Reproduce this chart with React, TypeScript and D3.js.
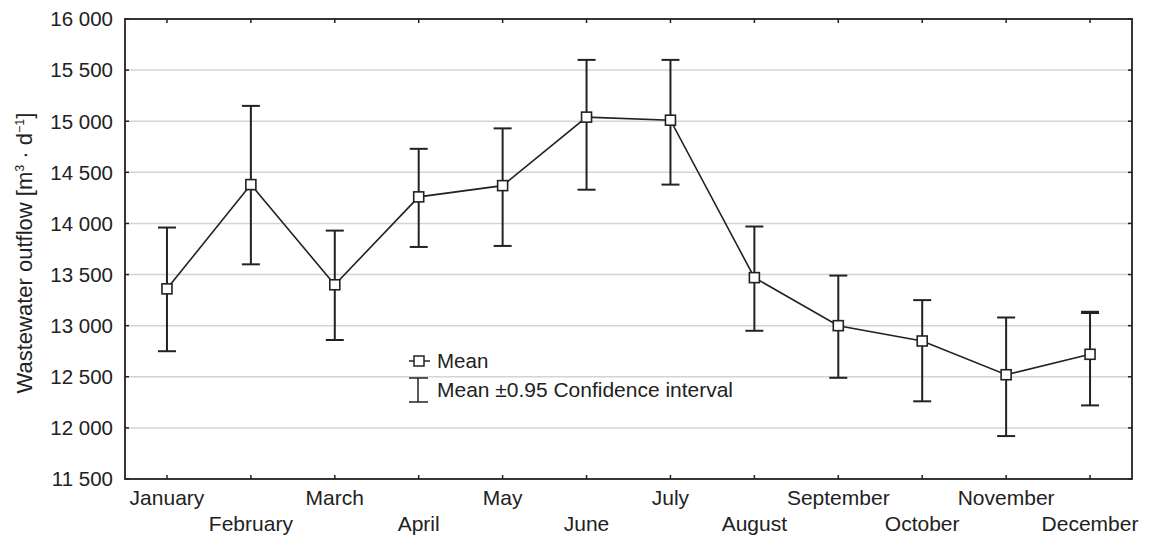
import React from "react";
import * as d3 from "d3";

const months = ["January","February","March","April","May","June","July","August","September","October","November","December"];
const meanValues = [13360,14380,13400,14260,14370,15040,15010,13470,13000,12850,12520,12720];
const upperValues = [13960,15150,13930,14730,14930,15600,15600,13970,13490,13250,13080,13130];
const lowerValues = [12750,13600,12860,13770,13780,14330,14380,12950,12490,12260,11920,12220];
const yTicks = [11500,12000,12500,13000,13500,14000,14500,15000,15500,16000];

const W = 1155, H = 536;
const M = { left: 125, right: 1132, top: 19, bottom: 479 };
const FONT = "Liberation Sans, Arial, Helvetica, sans-serif";

export default function App() {
  const x = d3.scalePoint<string>().domain(months).range([M.left, M.right]).padding(0.5);
  const y = d3.scaleLinear().domain([11500, 16000]).range([M.bottom, M.top]);
  const fmt = (v: number) => d3.format(",")(v).replace(",", " ");
  const line = d3.line<number>().x((_, i) => x(months[i])!).y(d => y(d));
  const cap = 9;
  const sq = 5;

  return (
    <svg width={W} height={H} style={{ position: "absolute", left: 0, top: 0, background: "#fff" }}>
      <rect x={0} y={0} width={W} height={H} fill="#fff" />
      {/* grid */}
      {yTicks.filter(t => t !== 11500 && t !== 16000).map(t => (
        <line key={"g" + t} x1={M.left} x2={M.right} y1={y(t)} y2={y(t)} stroke="#d4d4d4" strokeWidth={1.5} />
      ))}
      {/* y ticks (inward, both sides) */}
      {yTicks.map(t => (
        <g key={"yt" + t}>
          <line x1={M.left} x2={M.left + 4} y1={y(t)} y2={y(t)} stroke="#222" strokeWidth={1.5} />
          <line x1={M.right} x2={M.right - 4} y1={y(t)} y2={y(t)} stroke="#222" strokeWidth={1.5} />
          <text x={M.left - 12} y={y(t)} dy="0.36em" textAnchor="end" fontFamily={FONT} fontSize={20.5} fill="#222">{fmt(t)}</text>
        </g>
      ))}
      {/* x ticks (inward, top and bottom) */}
      {months.map((m, i) => (
        <g key={"xt" + m}>
          <line x1={x(m)!} x2={x(m)!} y1={M.bottom} y2={M.bottom - 4} stroke="#222" strokeWidth={1.5} />
          <line x1={x(m)!} x2={x(m)!} y1={M.top} y2={M.top + 4} stroke="#222" strokeWidth={1.5} />
          <text x={x(m)!} y={i % 2 === 0 ? 505 : 531} textAnchor="middle" fontFamily={FONT} fontSize={21} fill="#222">{m}</text>
        </g>
      ))}
      {/* frame */}
      <rect x={M.left} y={M.top} width={M.right - M.left} height={M.bottom - M.top} fill="none" stroke="#222" strokeWidth={1.8} />
      {/* whiskers */}
      {months.map((m, i) => (
        <g key={"w" + m} stroke="#222" strokeWidth={2}>
          <line x1={x(m)!} x2={x(m)!} y1={y(upperValues[i])} y2={y(lowerValues[i])} />
          <line x1={x(m)! - cap} x2={x(m)! + cap} y1={y(upperValues[i])} y2={y(upperValues[i])} strokeWidth={i === 11 ? 3.2 : 2} />
          <line x1={x(m)! - cap} x2={x(m)! + cap} y1={y(lowerValues[i])} y2={y(lowerValues[i])} />
        </g>
      ))}
      {/* mean line */}
      <path d={line(meanValues)!} fill="none" stroke="#222" strokeWidth={1.6} />
      {months.map((m, i) => (
        <rect key={"s" + m} x={x(m)! - sq} y={y(meanValues[i]) - sq} width={sq * 2} height={sq * 2} fill="#fff" stroke="#222" strokeWidth={1.6} />
      ))}
      {/* legend */}
      <g>
        <line x1={409} x2={430} y1={361} y2={361} stroke="#222" strokeWidth={1.5} />
        <rect x={414} y={356} width={10} height={10} fill="#fff" stroke="#222" strokeWidth={1.5} />
        <text x={437} y={368} fontFamily={FONT} fontSize={20.5} fill="#222">Mean</text>
        <line x1={418} x2={418} y1={378} y2={402} stroke="#222" strokeWidth={1.5} />
        <line x1={409} x2={428} y1={378} y2={378} stroke="#222" strokeWidth={1.5} />
        <line x1={409} x2={428} y1={402} y2={402} stroke="#222" strokeWidth={1.5} />
        <text x={437} y={397} fontFamily={FONT} fontSize={20.5} fill="#222" textLength={296} lengthAdjust="spacingAndGlyphs">Mean ±0.95 Confidence interval</text>
      </g>
      {/* y axis title */}
      <text transform={`translate(32, 253) rotate(-90)`} textAnchor="middle" fontFamily={FONT} fontSize={22} fill="#222">
        Wastewater outflow [m<tspan dy={-8} fontSize={12.5}>3</tspan><tspan dy={8}> · d</tspan><tspan dy={-8} fontSize={12.5}>−1</tspan><tspan dy={8}>]</tspan>
      </text>
    </svg>
  );
}
